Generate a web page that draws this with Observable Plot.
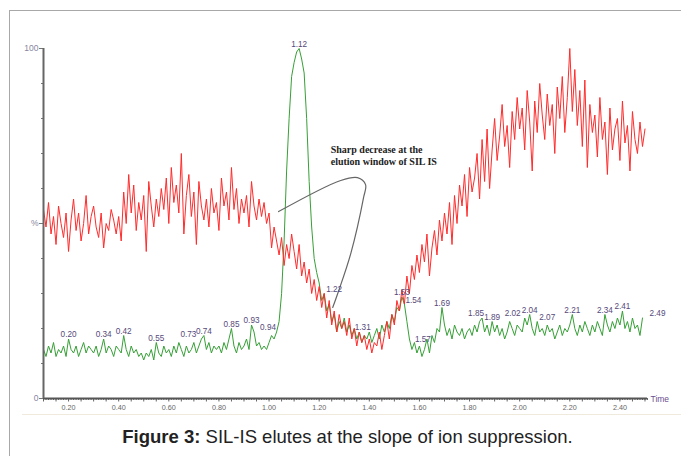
<!DOCTYPE html>
<html>
<head>
<meta charset="utf-8">
<script src="https://cdn.jsdelivr.net/npm/d3@7"></script>
<script src="https://cdn.jsdelivr.net/npm/@observablehq/plot@0.6"></script>
<style>
  html, body { margin: 0; padding: 0; background: #fff; }
  body { width: 681px; height: 456px; overflow: hidden; position: relative; font-family: "Liberation Sans", Arial, sans-serif; }
  #frame { position: absolute; left: 9px; top: 10px; width: 720px; height: 520px; border-left: 1px solid #a8a8a8; border-top: 1px solid #a8a8a8; }
  #sep { position: absolute; left: 22px; top: 414px; width: 670px; height: 1px; background: #efeadb; }
  #chart { position: absolute; left: 0; top: 0; }
  #caption { position: absolute; left: 0; top: 426px; width: 695px; text-align: center; font-size: 18.5px; line-height: 22px; color: #222; }
</style>
</head>
<body>
<div id="frame"></div>
<div id="sep"></div>
<div id="chart"></div>
<div id="caption"><b>Figure 3:</b> SIL-IS elutes at the slope of ion suppression.</div>
<script>
// ---- data (relative abundance, %) sampled every 0.01 min from 0.10 ----
const startTime = 0.10;
const redValues = [
  54, 49, 56, 47, 52, 44, 55, 50, 46, 53,
  42, 51, 57, 48, 53, 45, 50, 58, 47, 52,
  55, 49, 46, 53, 43, 50, 48, 54, 51, 47,
  52, 45, 59, 50, 64, 53, 61, 48, 56, 51,
  58, 42, 62, 55, 49, 57, 52, 60, 54, 63,
  50, 66, 56, 61, 53, 70, 47, 58, 64, 52,
  59, 44, 62, 55, 51, 57, 49, 60, 53, 56,
  48, 63, 55, 59, 51, 66, 54, 60, 50, 57,
  53, 58, 49, 62, 55, 51, 57, 52, 56, 50,
  53, 43, 49, 45, 41, 46, 38, 44, 40, 47,
  42, 37, 44, 35, 39, 33, 37, 30, 34, 28,
  32, 26, 30, 23, 28, 21, 25, 19, 24, 20,
  22, 18, 23, 17, 20, 15, 19, 16, 18, 14,
  17, 13, 16, 15, 19, 14, 18, 22, 17, 24,
  21, 28, 25, 31, 27, 35, 30, 38, 34, 41,
  36, 44, 39, 47, 35, 43, 48, 41, 51, 45,
  53, 47, 56, 44, 58, 50, 61, 55, 64, 52,
  66, 59, 63, 70, 57, 74, 62, 77, 60, 71,
  80, 68, 75, 84, 72, 78, 66, 82, 74, 86,
  77, 83, 71, 88, 79, 65, 85, 76, 90, 81,
  74, 87, 78, 84, 70, 89, 80, 92, 76, 86,
  100, 82, 94, 78, 88, 72, 91, 66, 84, 76,
  81, 69, 86, 74, 79, 64, 83, 71, 77, 80,
  68, 85, 73, 78, 65, 82, 74, 70, 79, 72,
  77
];
const greenValues = [
  14, 12, 15, 13, 16, 12, 14, 13, 15, 12,
  17, 14, 13, 15, 12, 14, 16, 13, 15, 14,
  13, 15, 12, 14, 17, 13, 15, 14, 12, 15,
  14, 13, 18, 14, 12, 15, 13, 14, 12, 13,
  11, 13, 12, 14, 11, 16, 13, 12, 15, 13,
  14, 12, 15, 13, 16, 14, 12, 15, 13, 14,
  16, 13, 15, 17, 18, 14, 16, 13, 15, 14,
  15, 13, 16, 14, 17, 20, 15, 13, 16, 14,
  15, 17, 14, 21, 19, 15, 16, 14, 15, 14,
  16, 18, 17, 19, 22, 30, 45, 65, 80, 92,
  96, 99, 100, 97, 93, 80, 62, 49, 40, 36,
  33, 28, 30, 25, 27, 22, 24, 19, 22, 20,
  23, 19, 21, 18, 20, 17, 19, 16, 18, 17,
  19, 16, 18, 20, 17, 21, 19, 22, 20, 24,
  22, 26, 25, 29, 27, 22, 17, 14, 16, 13,
  15, 12, 14, 17, 13, 18, 16, 20, 19, 26,
  21, 18, 20, 17, 21, 19, 18, 20, 17, 19,
  20, 18, 21, 19, 22, 23, 19, 21, 18, 22,
  19, 21, 18, 20, 17, 19, 22, 20, 18, 21,
  20, 19, 23, 21, 24, 20, 18, 22, 19, 20,
  18, 21, 19, 20, 17, 19, 21, 18, 20, 19,
  21, 24, 20, 18, 21, 19, 22, 20, 18, 21,
  19, 22, 20, 18, 24, 21, 19, 22, 20, 23,
  21, 25, 20, 22, 19, 23, 20, 21, 18, 23
];
const peakTimes = [0.20, 0.34, 0.42, 0.55, 0.73, 0.74, 0.85, 0.93, 0.94, 1.12, 1.22, 1.31,
  1.53, 1.54, 1.57, 1.69, 1.85, 1.89, 2.02, 2.04, 2.07, 2.21, 2.34, 2.41, 2.49];
const xTickLabels = [0.20, 0.40, 0.60, 0.80, 1.00, 1.20, 1.40, 1.60, 1.80, 2.00, 2.20, 2.40];
const yTickLabels = [0, 50, 100];
const annotationText = "Sharp decrease at the\nelution window of SIL IS";
const annotationAnchor = {t: 1.246, v: 72.6};
const annotationPath = [
  {t: 1.038, v: 53.4}, {t: 1.286, v: 62.3}, {t: 1.353, v: 63.1}, {t: 1.385, v: 61.1},
  {t: 1.377, v: 57.4}, {t: 1.326, v: 41.4}, {t: 1.274, v: 30.0}, {t: 1.254, v: 26.0}
];

// ---- build tables ----
const timeAt = i => +(startTime + i * 0.01).toFixed(2);
const red = redValues.map((v, i) => ({t: timeAt(i), v}));
const green = greenValues.map((v, i) => ({t: timeAt(i), v}));
const peaks = peakTimes.map(t => ({t, v: greenValues[Math.round((t - startTime) / 0.01)], text: t.toFixed(2)}));
const labelShiftX = {"0.73": -13, "0.94": 14, "1.22": 10, "1.31": 16, "1.54": 9, "1.57": 11, "1.85": -6, "2.02": -12, "2.07": 10, "2.49": 15};
const labelShiftY = {"1.57": -6, "1.54": 1};

const xDomain = [0.10, 2.51];
const minorX = d3.range(10, 252).map(i => i / 100);
const midX = d3.range(2, 51).map(i => i * 0.05);
const minorY = d3.range(0, 101, 10);

const peakMarks = peaks.map(p => Plot.text([p], {
  x: "t", y: "v", text: "text", dx: labelShiftX[p.text] || 0, dy: -2 + (labelShiftY[p.text] || 0),
  lineAnchor: "bottom", fontSize: 8.2, fill: "#56497a"
}));

const chart = Plot.plot({
  width: 681,
  height: 416,
  marginTop: 48,
  marginBottom: 18,
  marginLeft: 43,
  marginRight: 34,
  x: {domain: xDomain},
  y: {domain: [0, 100]},
  style: {fontFamily: "'Liberation Sans', Arial, sans-serif", background: "transparent", overflow: "visible"},
  marks: [
    Plot.axisX(minorX, {tickSize: 2, tickFormat: () => "", stroke: "#666", label: null}),
    Plot.axisX(midX, {tickSize: 3.5, tickFormat: () => "", stroke: "#666", label: null}),
    Plot.axisX(xTickLabels, {tickSize: 0, tickPadding: 6, tickFormat: d3.format(".2f"), fontSize: 7.2, fill: "#666", label: null}),
    Plot.axisY(minorY, {tickSize: 2, tickFormat: () => "", stroke: "#777", label: null}),
    Plot.axisY(yTickLabels, {tickSize: 4, tickPadding: 1, tickFormat: d => d === 50 ? "%" : d, fontSize: 8.5, fill: "#8886a0", stroke: "#777", label: null}),
    Plot.lineY(green, {x: "t", y: "v", stroke: "#36a036", strokeWidth: 1}),
    Plot.lineY(red, {x: "t", y: "v", stroke: "#ff2b2b", strokeWidth: 1}),
    Plot.ruleY([0], {stroke: "#555", strokeWidth: 2}),
    Plot.ruleX([xDomain[0]], {stroke: "#666", strokeWidth: 2}),
    Plot.text(["Time"], {x: xDomain[1], y: 0, text: d => d, textAnchor: "start", dx: 3, dy: 1, fontSize: 8.5, fill: "#6a4e8e"}),
    Plot.line(annotationPath, {x: "t", y: "v", curve: "catmull-rom", stroke: "#666", strokeWidth: 1.2}),
    Plot.text([annotationAnchor], {x: "t", y: "v", text: () => annotationText, textAnchor: "start", lineAnchor: "top", lineHeight: 1.2,
      fontSize: 10, fontWeight: "bold", fontFamily: "'Liberation Serif', 'Times New Roman', serif", fill: "#222"}),
    ...peakMarks
  ]
});
document.getElementById("chart").appendChild(chart);
</script>
</body>
</html>
